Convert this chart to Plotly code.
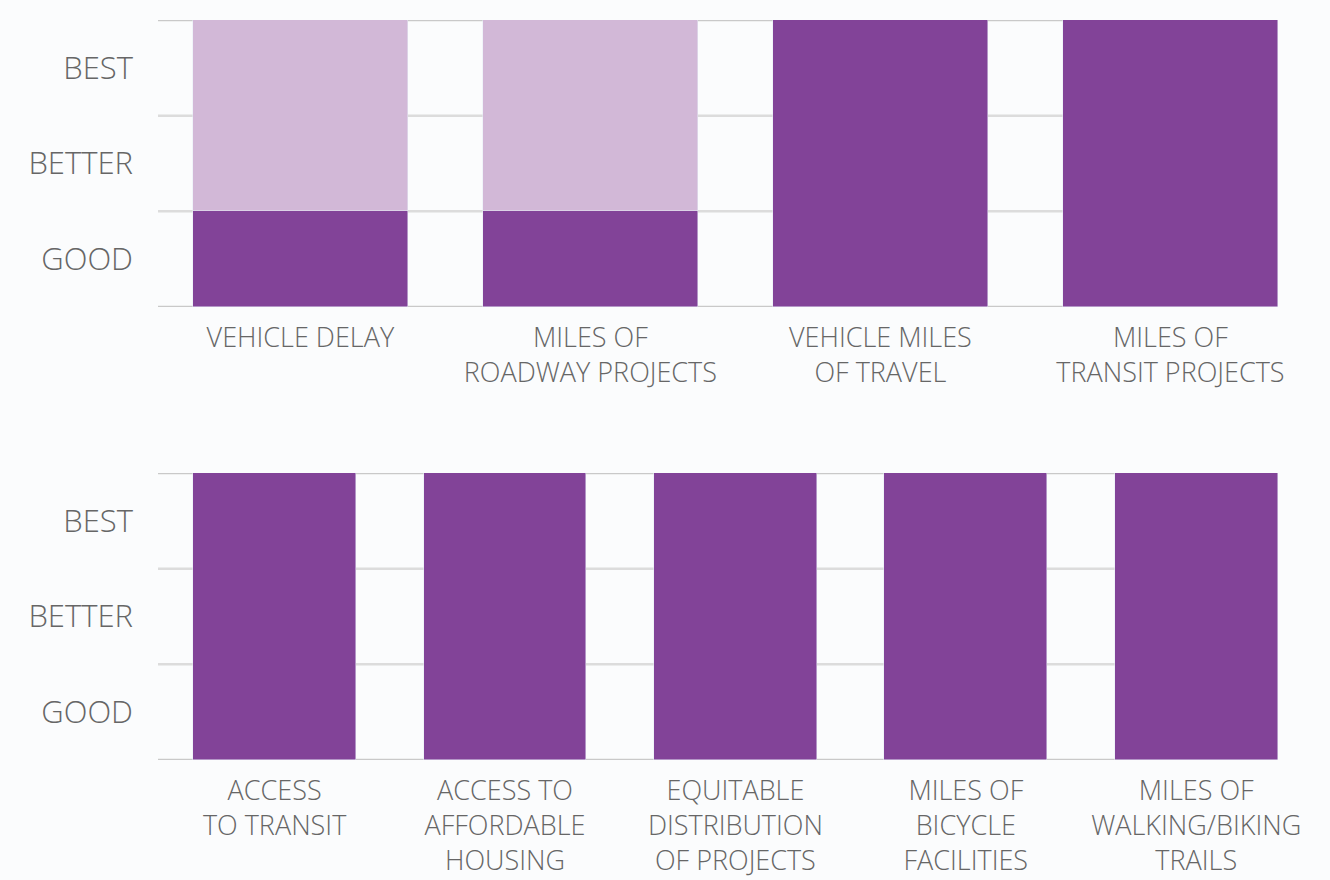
import plotly.graph_objects as go

# Rating levels shown on the vertical axis (bottom to top)
levels = ["GOOD", "BETTER", "BEST"]
level_pos = [0.5, 1.5, 2.5]
grid_pos = [0, 1, 2, 3]

# Upper panel: roadway / vehicle measures
top_cats = ["VEHICLE DELAY", "MILES OF<br>ROADWAY PROJECTS",
            "VEHICLE MILES<br>OF TRAVEL", "MILES OF<br>TRANSIT PROJECTS"]
top_achieved = [1, 1, 3, 3]
top_remaining = [2, 2, 0, 0]

# Lower panel: access / active transportation measures
bot_cats = ["ACCESS<br>TO TRANSIT", "ACCESS TO<br>AFFORDABLE<br>HOUSING",
            "EQUITABLE<br>DISTRIBUTION<br>OF PROJECTS", "MILES OF<br>BICYCLE<br>FACILITIES",
            "MILES OF<br>WALKING/BIKING<br>TRAILS"]
bot_achieved = [3, 3, 3, 3, 3]

DARK = "#824398"
LIGHT = "#D2B8D7"
BG = "#FBFCFD"
GRID = "#DCDCDC"
EDGE = "#C9C9C9"
TEXT = "#666666"
FONT = "Open Sans"

fig = go.Figure()
fig.add_trace(go.Bar(x=top_cats, y=top_achieved, marker_color=DARK, width=0.74,
                     xaxis="x", yaxis="y", showlegend=False))
fig.add_trace(go.Bar(x=top_cats, y=top_remaining, marker_color=LIGHT, width=0.74,
                     xaxis="x", yaxis="y", showlegend=False))
fig.add_trace(go.Bar(x=bot_cats, y=bot_achieved, marker_color=DARK, width=0.707,
                     xaxis="x2", yaxis="y2", showlegend=False))

# Horizontal guide lines between rating levels, behind the bars
shapes = []
for xa, ya in (("x", "y"), ("x2", "y2")):
    for g in grid_pos:
        shapes.append(dict(type="line", xref=f"{xa} domain", yref=ya,
                           x0=0, x1=1, y0=g, y1=g, layer="below",
                           line=dict(color=EDGE if g in (0, 3) else GRID, width=2.5)))

xcommon = dict(type="category", showgrid=False, zeroline=False, showline=False,
               ticks="", automargin=False,
               tickfont=dict(family=FONT, size=27, color=TEXT, weight=300),
               ticklabelstandoff=12, fixedrange=True)
ycommon = dict(range=[0, 3], tickvals=level_pos, ticktext=levels, showgrid=False,
               zeroline=False, showline=False, ticks="", automargin=False,
               tickfont=dict(family=FONT, size=31, color=TEXT, weight=300),
               ticklabelstandoff=24, fixedrange=True)

fig.update_layout(
    width=1330, height=880,
    margin=dict(l=158, r=52, t=20, b=120),
    paper_bgcolor=BG, plot_bgcolor=BG,
    barmode="stack", bargap=0,
    shapes=shapes,
    xaxis=dict(xcommon, range=[-0.491, 3.371], anchor="y"),
    yaxis=dict(ycommon, domain=[0.6122, 1.0], anchor="x"),
    xaxis2=dict(xcommon, range=[-0.506, 4.355], anchor="y2"),
    yaxis2=dict(ycommon, domain=[0.0, 0.3878], anchor="x2"),
)

fig.write_html("out.html")
